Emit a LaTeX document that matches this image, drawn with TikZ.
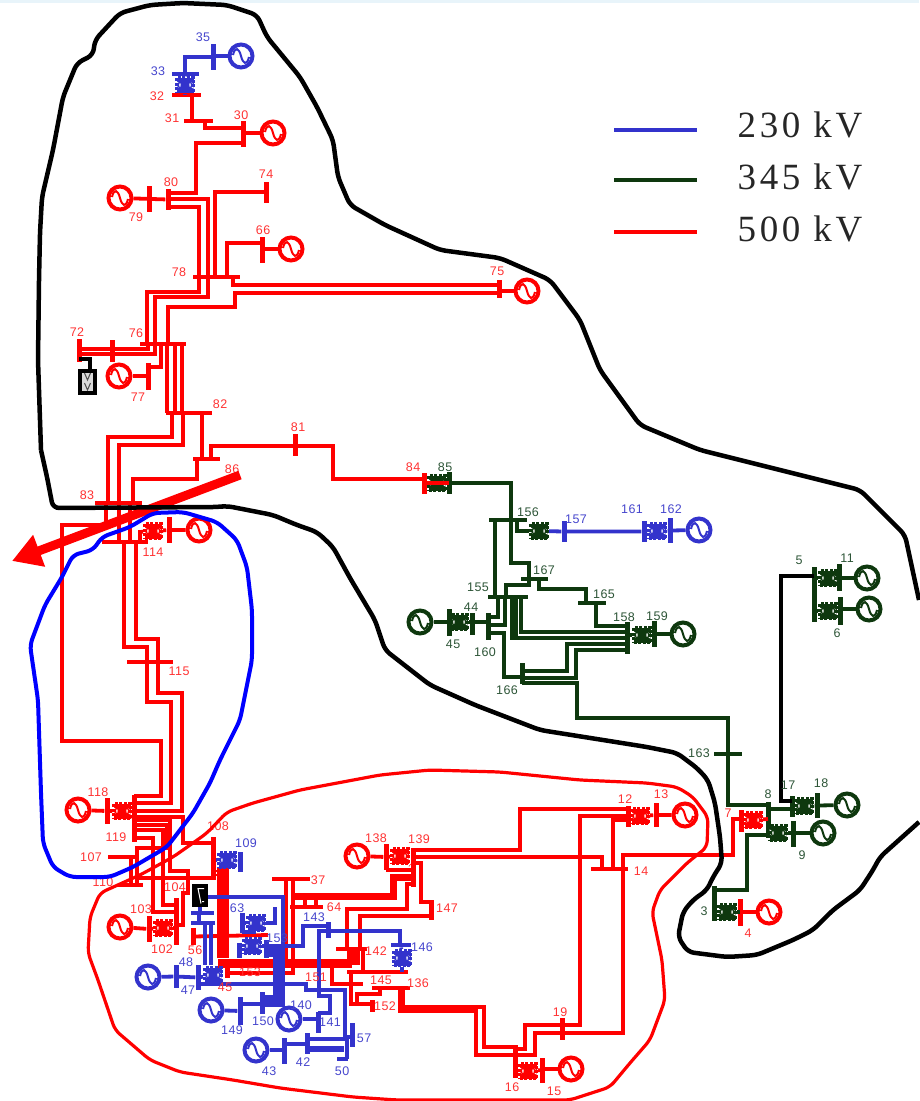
\documentclass[tikz,border=0pt]{standalone}
\usepackage{fontspec}
\usetikzlibrary{arrows.meta}
\newfontfamily\labfont[LetterSpace=4]{Liberation Sans}
\newfontfamily\legfont[LetterSpace=10]{Liberation Serif}
\definecolor{red500}{RGB}{255,0,0}
\definecolor{grn345}{RGB}{14,56,14}
\definecolor{blu230}{RGB}{51,51,204}
\definecolor{labred}{RGB}{255,50,50}
\definecolor{labgrn}{RGB}{45,85,55}
\definecolor{labblu}{RGB}{70,70,205}
\definecolor{topband}{RGB}{232,244,250}

\begin{document}
\begin{tikzpicture}[x=1pt,y=-1pt]
        \tikzset{vbus/.style 2 args = {shape=rectangle,fill=#1,inner sep=0pt,minimum width=5pt,minimum height=#2pt}}
        \tikzset{hbus/.style 2 args = {shape=rectangle,fill=#1,inner sep=0pt,minimum height=4.5pt,minimum width=#2pt}}
        \tikzset{gen/.style = {shape=circle,draw=#1,fill=white,line width=4pt,inner sep=0pt,minimum size=23pt,
          path picture={\draw[#1,line width=2pt] ([xshift=-8pt,yshift=1pt]path picture bounding box.center) .. controls +(2pt,9pt) and +(-2pt,8pt) .. (path picture bounding box.center) .. controls +(2pt,-8pt) and +(-2pt,-9pt) .. ([xshift=8pt,yshift=-1pt]path picture bounding box.center);}}}
        \tikzset{xfmr/.style = {shape=rectangle,draw=#1,fill=#1,line width=3pt,dash pattern=on 3pt off 1.5pt,inner sep=0pt,minimum width=17pt,minimum height=15pt,
          path picture={\draw[white,line width=1.3pt] ([xshift=-1pt,yshift=-4pt]path picture bounding box.north west) -- +(5pt,-3pt) ([xshift=-1pt,yshift=4pt]path picture bounding box.south west) -- +(5pt,3pt) ([xshift=1pt,yshift=-4pt]path picture bounding box.north east) -- +(-5pt,-3pt) ([xshift=1pt,yshift=4pt]path picture bounding box.south east) -- +(-5pt,3pt);}}}
        \tikzset{lr/.style = {draw=red500,line width=3.8pt}}
        \tikzset{lg/.style = {draw=grn345,line width=3.8pt}}
        \tikzset{lb/.style = {draw=blu230,line width=3.8pt}}
        \tikzset{tr/.style = {text=labred,font=\labfont\fontsize{12.5}{12.5}\selectfont,inner sep=0pt}}
        \tikzset{tg/.style = {text=labgrn,font=\labfont\fontsize{12.5}{12.5}\selectfont,inner sep=0pt}}
        \tikzset{tb/.style = {text=labblu,font=\labfont\fontsize{12.5}{12.5}\selectfont,inner sep=0pt}}
        \tikzset{legend/.style = {text=black!85,font=\legfont\fontsize{37}{37}\selectfont,inner sep=0pt}}
        \tikzset{zone/.style = {line width=4.5pt,line join=round,rounded corners=6pt}}

        \useasboundingbox (0,0) rectangle (919,1101);
        \fill[topband] (0,0) rectangle (919,2.5);

        % legend
        \coordinate (k230a) at (614,130);
        \coordinate (k230b) at (697,130);
        \coordinate (k345a) at (614,180);
        \coordinate (k345b) at (697,180);
        \coordinate (k500a) at (614,232);
        \coordinate (k500b) at (697,232);
        \draw[lb] (k230a) -- (k230b);
        \draw[lg] (k345a) -- (k345b);
        \draw[lr] (k500a) -- (k500b);
        \node[legend] (t230) at (800,125) {230 kV};
        \node[legend] (t345) at (800,177) {345 kV};
        \node[legend] (t500) at (800,229) {500 kV};

        % north area
        \node[vbus={blu230}{26}] (b35) at (213,57) {};
        \node[hbus={blu230}{27}] (b33) at (185.5,74) {};
        \node[xfmr=blu230] (x33) at (185,85) {};
        \node[gen=blu230] (g35) at (241,56) {};
        \node[hbus={red500}{29}] (b32) at (186.5,95) {};
        \node[hbus={red500}{29}] (b31) at (198.5,121) {};
        \node[vbus={red500}{26}] (b30) at (243,134) {};
        \node[gen=red500] (g30) at (273,133) {};
        \node[vbus={red500}{21}] (b80) at (168,199.5) {};
        \node[vbus={red500}{26}] (b79) at (149,199) {};
        \node[gen=red500] (g79) at (120,198) {};
        \node[vbus={red500}{21}] (b74) at (266,192.5) {};
        \node[vbus={red500}{26}] (b66) at (262,250) {};
        \node[gen=red500] (g66) at (291,249) {};
        \node[hbus={red500}{47}] (b78) at (216.5,277) {};
        \node[vbus={red500}{18}] (b75) at (499,289) {};
        \node[gen=red500] (g75) at (527,291) {};
        \node[hbus={red500}{46}] (b76) at (163,344) {};
        \node[vbus={red500}{23}] (b72) at (79,350.5) {};
        \node[vbus={red500}{22}] (b73) at (112,351) {};
        \node[vbus={red500}{27}] (b77) at (148,376.5) {};
        \node[gen=red500] (g77) at (119,376) {};
        \node[hbus={red500}{46}] (b82) at (189,413) {};
        \node[vbus={red500}{22}] (b81) at (295,445) {};
        \node[hbus={red500}{27}] (b86) at (206.5,459) {};
        \node[hbus={red500}{47}] (b83) at (118.5,503) {};
        \node[hbus={red500}{46}] (b114) at (125,542) {};
        \node[vbus={red500}{26}] (b113) at (169,530) {};
        \node[xfmr=red500] (x114) at (153,531) {};
        \node[gen=red500] (g113) at (199,530) {};
        \node[hbus={red500}{46}] (b115) at (150,662) {};
        \node[shape=rectangle,draw=black,fill=black!15,line width=3.5pt,minimum width=15pt,minimum height=22pt,inner sep=0pt,
          path picture={\draw[black!70,line width=1pt] (path picture bounding box.center) +(-3pt,9pt) -- +(0pt,2pt) -- +(3pt,9pt) +(-3pt,-1pt) -- +(0pt,-8pt) -- +(3pt,-1pt);}] (dev72) at (87.5,382) {};

        \draw[lb] (b33 -| 185,0) -- (185,57) -- (b35 |- 0,57);
        \draw[lb] (b35 |- 0,56) -- (g35);
        \draw[lb] (b33) -- (x33);
        \draw[lr] (b32 -| 192,0) -- (b31 -| 192,0);
        \draw[lr] (b31 -| 205,0) -- (205,128) -- (b30 |- 0,128);
        \draw[lr] (b30 |- 0,133) -- (g30);
        \draw[lr] (b30 |- 0,143) -- (196,143) -- (196,193) -- (b80 |- 0,193);
        \draw[lr] (g79) -- (b80);
        \draw[lr] (b80 |- 0,199) -- (208,199) -- (208,297) -- (155,297) -- (b76 -| 155,0);
        \draw[lr] (b80 |- 0,207) -- (199,207) -- (199,292) -- (147,292) -- (b76 -| 147,0);
        \draw[lr] (b78 -| 215,0) -- (215,192) -- (b74 |- 0,192);
        \draw[lr] (b78 -| 227,0) -- (227,243) -- (b66 |- 0,243);
        \draw[lr] (b66 |- 0,249) -- (g66);
        \draw[lr] (b78 -| 233,0) -- (233,285) -- (b75 |- 0,285);
        \draw[lr] (b75 |- 0,293) -- (235,293) -- (235,307) -- (168,307) -- (b76 -| 168,0);
        \draw[lr] (b75 |- 0,291) -- (g75);
        \draw[lr] (b72 |- 0,349) -- (148,349) -- (b76 -| 148,0);
        \draw[lr] (b72 |- 0,354) -- (155,354) -- (b76 -| 155,0);
        \draw[lr] (b76 -| 161,0) -- (161,367) -- (b77 |- 0,367);
        \draw[lr] (b77 |- 0,376) -- (g77);
        \draw[draw=black,line width=3.5pt] (b72 |- 0,359) -- (90,359) -- (dev72.north -| 90,0);
        \draw[lr] (b76 -| 167,0) -- (b82 -| 167,0);
        \draw[lr] (b76 -| 175,0) -- (b82 -| 175,0);
        \draw[lr] (b76 -| 182,0) -- (b82 -| 182,0);
        \draw[lr] (b82 -| 172,0) -- (172,437) -- (108,437) -- (b83 -| 108,0);
        \draw[lr] (b82 -| 183,0) -- (183,445) -- (119,445) -- (b83 -| 119,0);
        \draw[lr] (b82 -| 202,0) -- (b86 -| 202,0);
        \draw[lr] (b86 -| 197,0) -- (197,479) -- (133,479) -- (b83 -| 133,0);
        \draw[lr] (b86 -| 211,0) -- (211,446) -- (333,446) -- (333,479) -- (424,479);
        \draw[lr] (b83 -| 106,0) -- (106,525) -- (62,525) -- (62,741) -- (161,741) -- (161,796) -- (134,796);
        \draw[lr] (b83 -| 119,0) -- (b114 -| 119,0);
        \draw[lr] (b83 -| 130,0) -- (b114 -| 130,0);
        \draw[lr] (b114 -| 140,0) -- (140,532) -- (x114);
        \draw[lr] (x114) -- (b113) -- (g113);
        \draw[lr] (b114 -| 124,0) -- (124,647) -- (147,647) -- (147,702) -- (171,702) -- (171,803) -- (134,803);
        \draw[lr] (b114 -| 136,0) -- (136,639) -- (158,639) -- (158,693) -- (182,693) -- (182,811) -- (134,811);

        % south west area
        \node[vbus={red500}{47}] (b119) at (134,818.5) {};
        \node[vbus={red500}{26}] (b118) at (107,811) {};
        \node[gen=red500] (g118) at (78,810) {};
        \node[xfmr=red500] (x118) at (122,811) {};
        \node[hbus={red500}{27}] (b107) at (121.5,857) {};
        \node[hbus={red500}{25}] (b110) at (130.5,885) {};
        \node[vbus={red500}{43}] (b108) at (213,858.5) {};
        \node[vbus={red500}{47}] (b102) at (176,921.5) {};
        \node[vbus={red500}{26}] (b103) at (149,929) {};
        \node[gen=red500] (g103) at (120,927) {};
        \node[xfmr=red500] (x102) at (163,928) {};
        \node[vbus={red500}{17}] (b56) at (193,936.5) {};
        \node[vbus={red500}{15}] (b159) at (227,970.5) {};
        \node[hbus={red500}{38}] (b37) at (291,879) {};
        \node[hbus={red500}{33}] (b64) at (306.5,907) {};
        \node[hbus={red500}{31}] (b142) at (351.5,949) {};
        \node[hbus={red500}{61}] (b42b) at (377.5,972) {};
        \node[hbus={red500}{33}] (b145) at (346.5,984) {};
        \node[hbus={red500}{38}] (b136) at (391,988) {};
        \node[vbus={red500}{12}] (b152) at (372,1006) {};
        \coordinate (c108) at (223,868);
        \coordinate (c153) at (223,958);
        \node[vbus={red500}{26}] (b138) at (386,857) {};
        \node[gen=red500] (g138) at (357,856) {};
        \node[xfmr=red500] (x138) at (400,856) {};
        \node[vbus={red500}{39}] (b139) at (413,867.5) {};
        \node[vbus={red500}{20}] (b147) at (431,910) {};

        \draw[lr] (g118) -- (b118) -- (x118) -- (b119);
        \draw[lr] (b119 |- 0,817) -- (183,817) -- (183,843) -- (b108 |- 0,843);
        \draw[lr] (b119 |- 0,825) -- (167,825) -- (167,848) -- (137,848) -- (b110 -| 137,0);
        \draw[lr] (b110 -| 131,0) -- (b107 -| 131,0);
        \draw[lr] (b119 |- 0,838) -- (153,838) -- (153,912) -- (b102 |- 0,912);
        \draw[lr] (b119 |- 0,830) -- (163,830) -- (163,905) -- (b102 |- 0,905);
        \draw[lr] (b119 |- 0,820) -- (170,820) -- (170,871) -- (188,871) -- (188,893) -- (183,893) -- (183,925) -- (b102 |- 0,925);
        \draw[lr] (b110 -| 137,0) -- (137,878) -- (b108 |- 0,878);
        \draw[lr] (g103) -- (b103) -- (x102) -- (b102 |- 0,928);
        \draw[lr,line width=12pt] (c108) -- (c153);
        \draw[lr,line width=1.6pt] (b108 |- 0,871) -- (218,871);
        \draw[lr,line width=1.6pt] (b108 |- 0,875) -- (218,875);
        \draw[lr] (b56) -- (268,935);
        \draw[lr,line width=9pt] (218,963) -- (b142 |- 0,963);
        \draw[lr,line width=13pt] (b142 -| 353.5,0) -- (353.5,965);
        \draw[lr] (b159 |- 0,973) -- (293,973) -- (b37 -| 293,0);
        \draw[lr] (b37 -| 286,0) -- (286,963);
        \draw[lr,line width=7pt] (293,896) -- (393,896) -- (393,877) -- (b139 |- 0,877);
        \draw[lr] (305,896) -- (b64 -| 305,0);
        \draw[lr] (316,896) -- (b64 -| 316,0);
        \draw[lr] (g138) -- (b138) -- (x138) -- (b139);
        \draw[lr] (b138 |- 0,870) -- (b139 |- 0,870);
        \draw[lr] (b139 |- 0,884) -- (407,884) -- (407,909) -- (347,909) -- (b142 -| 347,0);
        \draw[lr] (b139 |- 0,863) -- (421,863) -- (421,902) -- (b147 |- 0,902);
        \draw[lr] (b147 |- 0,916) -- (360,916) -- (b142 -| 360,0);
        \draw[lr] (b142 -| 363,0) -- (b42b -| 363,0);
        \draw[lr] (b42b -| 351,0) -- (351,1004) -- (b152 |- 0,1004);
        \draw[lr] (332,963) -- (b145 -| 332,0);
        \draw[lr] (357,1004) -- (357,994) -- (380,994) -- (b136 -| 380,0);
        \draw[lr,line width=7pt] (b136 -| 401.5,0) -- (401.5,1009);
        \draw[lr] (398,1007) -- (484,1007) -- (484,1047) -- (518,1047);
        \draw[lr] (398,1011) -- (476,1011) -- (476,1055) -- (515,1055);

        % south east area
        \node[vbus={red500}{33}] (b16) at (515,1061.5) {};
        \node[xfmr=red500] (x16) at (528,1071) {};
        \node[vbus={red500}{25}] (b15) at (542,1070.5) {};
        \node[gen=red500] (g15) at (571,1069) {};
        \node[vbus={red500}{22}] (b19) at (562,1029) {};
        \node[hbus={red500}{37}] (b14) at (609.5,869) {};
        \node[vbus={red500}{21}] (b12) at (628,816.5) {};
        \node[xfmr=red500] (x12) at (640,816) {};
        \node[vbus={red500}{24}] (b13) at (656,815) {};
        \node[gen=red500] (g13) at (685,815) {};
        \node[vbus={red500}{22}] (b7) at (741,821) {};
        \node[xfmr=red500] (x7) at (753,820) {};

        \draw[lr] (b16 |- 0,1049) -- (525,1049) -- (525,1025) -- (580,1025) -- (580,816) -- (b12 |- 0,816);
        \draw[lr] (b16 |- 0,1055) -- (535,1055) -- (535,1033) -- (623,1033) -- (623,855) -- (733,855) -- (733,819) -- (b7 |- 0,819);
        \draw[lr] (b16 |- 0,1071) -- (x16) -- (b15 |- 0,1070);
        \draw[lr] (b15 |- 0,1069) -- (g15);
        \draw[lr] (b139 |- 0,850) -- (520,850) -- (520,809) -- (b12 |- 0,809);
        \draw[lr] (b139 |- 0,857) -- (602,857) -- (b14 -| 602,0);
        \draw[lr] (b14 -| 613,0) -- (613,820) -- (b12 |- 0,820);
        \draw[lr] (b12) -- (x12) -- (b13) -- (g13);
        \draw[lr] (b7) -- (x7);

        % 345 kV area
        \node[vbus={red500}{21}] (b84) at (424,483.5) {};
        \node[xfmr=grn345] (x85) at (437,483) {};
        \node[vbus={grn345}{22}] (b85) at (449,483) {};
        \node[hbus={grn345}{38}] (b156) at (508,520) {};
        \node[xfmr=grn345] (x156) at (539,531) {};
        \node[vbus={blu230}{21}] (b157) at (564,531.5) {};
        \node[vbus={blu230}{21}] (b161) at (644,531.5) {};
        \node[xfmr=blu230] (x161) at (657,531) {};
        \node[vbus={blu230}{25}] (b162) at (670,530.5) {};
        \node[gen=blu230] (g162) at (699,530) {};
        \node[hbus={grn345}{40}] (b155) at (508,597) {};
        \node[hbus={grn345}{27}] (b167) at (534.5,579) {};
        \node[hbus={grn345}{28}] (b165) at (592,603) {};
        \node[vbus={grn345}{32}] (b158) at (627,638) {};
        \node[xfmr=grn345] (x158) at (642,635) {};
        \node[vbus={grn345}{26}] (b159b) at (654,634) {};
        \node[gen=grn345] (g159) at (683,634) {};
        \node[vbus={grn345}{27}] (b160) at (488,626.5) {};
        \node[vbus={grn345}{22}] (b44) at (472,624) {};
        \node[xfmr=grn345] (x45) at (459,622) {};
        \node[vbus={grn345}{27}] (b45) at (449,622.5) {};
        \node[gen=grn345] (g45) at (420,622) {};
        \node[vbus={grn345}{21}] (b166) at (522,673.5) {};
        \node[hbus={grn345}{28}] (b163) at (728,754) {};
        \node[vbus={grn345}{36}] (b8) at (768,820) {};
        \node[vbus={grn345}{21}] (b17) at (792,806.5) {};
        \node[xfmr=grn345] (x17) at (804,806) {};
        \node[vbus={grn345}{25}] (b18) at (817,805.5) {};
        \node[gen=grn345] (g18) at (847,805) {};
        \node[xfmr=grn345] (x9) at (778,833) {};
        \node[vbus={grn345}{26}] (b9) at (793,834) {};
        \node[gen=grn345] (g9) at (823,833) {};
        \node[vbus={grn345}{35}] (b3) at (714,903.5) {};
        \node[xfmr=grn345] (x3) at (727,912) {};
        \node[vbus={red500}{27}] (b4) at (740,912.5) {};
        \node[gen=red500] (g4) at (769,912) {};
        \node[vbus={grn345}{55}] (b5) at (814,594.5) {};
        \node[xfmr=grn345] (x11) at (828,578) {};
        \node[vbus={grn345}{27}] (b11) at (839,577.5) {};
        \node[gen=grn345] (g11) at (867,578) {};
        \node[xfmr=grn345] (x6) at (828,611) {};
        \node[vbus={grn345}{28}] (b6) at (840,611) {};
        \node[gen=grn345] (g6) at (869,609) {};

        \draw[lr] (b84 |- 0,483) -- (b85 |- 0,483);
        \draw[lg] (b85 |- 0,483) -- (511,483) -- (511,563) -- (529,563) -- (529,585) -- (506,585) -- (b155 -| 506,0);
        \draw[lg] (b156 -| 517,0) -- (517,531) -- (x156);
        \draw[lb] (x156) -- (b157) -- (b161) -- (x161) -- (b162) -- (g162);
        \draw[lg] (b156 -| 495,0) -- (b155 -| 495,0);
        \draw[lg] (b167 -| 539,0) -- (539,589) -- (586,589) -- (b165 -| 586,0);
        \draw[lg] (b165 -| 596,0) -- (596,626) -- (b158 |- 0,626);
        \draw[lg] (b155 -| 498,0) -- (498,617) -- (b160 |- 0,617);
        \draw[lg] (b155 -| 505,0) -- (505,625) -- (b160 |- 0,625);
        \draw[lg] (b155 -| 512,0) -- (512,638) -- (b158 |- 0,638);
        \draw[lg] (b155 -| 516,0) -- (516,638) -- (b158 |- 0,638);
        \draw[lg] (b155 -| 521,0) -- (521,632) -- (b158 |- 0,632);
        \draw[lg] (b158 |- 0,635) -- (x158) -- (b159b |- 0,635);
        \draw[lg] (b159b) -- (g159);
        \draw[lg] (g45) -- (b45 |- 0,622) -- (x45) -- (b44 |- 0,622) -- (b160 |- 0,622);
        \draw[lg] (b160 |- 0,633) -- (504,633) -- (504,677) -- (b166 |- 0,677);
        \draw[lg] (b166 |- 0,671) -- (567,671) -- (567,644) -- (b158 |- 0,644);
        \draw[lg] (b166 |- 0,678) -- (576,678) -- (576,650) -- (b158 |- 0,650);
        \draw[lg] (b166 |- 0,683) -- (577,683) -- (577,718) -- (728,718) -- (728,805) -- (b8 |- 0,805);
        \draw[lg] (b8 |- 0,809) -- (b17 |- 0,809);
        \draw[lg] (b17) -- (x17) -- (b18) -- (g18);
        \draw[lr] (x7) -- (b8 |- 0,819);
        \draw[lg] (b8 |- 0,833) -- (x9) -- (b9 |- 0,833);
        \draw[lg] (b9 |- 0,833) -- (g9);
        \draw[lg] (b8 |- 0,835) -- (747,835) -- (747,890) -- (b3 |- 0,890);
        \draw[lg] (b3 |- 0,912) -- (x3) -- (b4 |- 0,912);
        \draw[lr] (b4 |- 0,912) -- (g4);
        \draw[draw=black,line width=3.5pt] (b5 |- 0,576) -- (781,576) -- (781,801) -- (b17 |- 0,801);
        \draw[lg] (b5 |- 0,578) -- (x11) -- (b11 |- 0,578);
        \draw[lg] (b11 |- 0,578) -- (g11);
        \draw[lg] (b5 |- 0,611) -- (x6) -- (b6 |- 0,611);
        \draw[lg] (b6 |- 0,609) -- (g6);

        % 230 kV pocket
        \node[xfmr=blu230] (x109) at (227,860) {};
        \node[vbus={blu230}{20}] (b109) at (240,862) {};
        \node[shape=rectangle,fill=black,minimum width=16pt,minimum height=23pt,inner sep=0pt,
          path picture={\draw[white,line width=1pt] (path picture bounding box.center) +(1pt,-8pt) -- +(-2pt,7pt) -- +(4pt,7pt) +(2pt,-6pt) -- +(4pt,-6pt);}] (dev56) at (200,895.5) {};
        \node[hbus={blu230}{23}] (b113t) at (202.5,913) {};
        \node[hbus={blu230}{24}] (b113u) at (203,923) {};
        \node[vbus={blu230}{25}] (b47) at (198,977.5) {};
        \node[vbus={blu230}{23}] (b48) at (176,976.5) {};
        \node[gen=blu230] (g47) at (148,977) {};
        \node[xfmr=blu230] (x45b) at (213,975) {};
        \node[xfmr=blu230] (x63) at (256,923) {};
        \node[vbus={blu230}{20}] (b63) at (242,923) {};
        \node[xfmr=blu230] (x153) at (252,946) {};
        \node[vbus={blu230}{15}] (b153a) at (239,950.5) {};
        \node[vbus={blu230}{18}] (b153b) at (266,949) {};
        \node[vbus={blu230}{16}] (b143) at (328,930) {};
        \node[hbus={blu230}{20}] (b146) at (401,945) {};
        \node[xfmr=blu230] (x146) at (402,958) {};
        \node[vbus={blu230}{22}] (b150) at (262,1003) {};
        \node[vbus={blu230}{28}] (b149) at (240,1011) {};
        \node[gen=blu230] (g149) at (211,1010) {};
        \node[gen=blu230] (g140) at (289,1019) {};
        \node[vbus={blu230}{21}] (b141) at (318,1022.5) {};
        \node[vbus={blu230}{24}] (b57) at (352,1035) {};
        \node[vbus={blu230}{21}] (b42) at (307,1043.5) {};
        \node[vbus={blu230}{26}] (b43) at (284,1051) {};
        \node[gen=blu230] (g43) at (256,1050) {};
        \node[hbus={blu230}{10}] (b50) at (342,1059) {};

        \draw[lb] (216,860) -- (x109) -- (b109);
        \draw[lb] (dev56.south) -- (b113t -| dev56.south);
        \draw[lb] (b113t -| 199,0) -- (b113u -| 199,0);
        \draw[lb] (b113u -| 205,0) -- (205,965);
        \draw[lb] (b113u -| 211,0) -- (211,965);
        \draw[lb] (g47) -- (b48) -- (b47) -- (x45b);
        \draw[lb] (dev56.east |- 0,897) -- (283,897) -- (283,1005) -- (b150 |- 0,1005);
        \draw[lb,line width=10pt] (b153b |- 0,952) -- (278,952) -- (278,1000) -- (b150 |- 0,1000);
        \draw[lb] (b63) -- (x63) -- (275,923) -- (275,907);
        \draw[lb] (b63 |- 0,932) -- (x63.south);
        \draw[lb] (b153a |- 0,946) -- (x153) -- (b153b |- 0,946);
        \draw[lb] (b153b |- 0,946) -- (303,946) -- (303,926) -- (b143 |- 0,926);
        \draw[lb] (b143 |- 0,931) -- (400,931) -- (b146 -| 400,0);
        \draw[lb] (b146) -- (x146);
        \draw[lb] (x146) -- (402,972);
        \draw[lb] (b143 |- 0,931) -- (319,931) -- (319,996) -- (330,996) -- (330,1013) -- (b141 |- 0,1013);
        \draw[lb] (b47 |- 0,984) -- (306,984) -- (306,990) -- (345,990) -- (345,1037) -- (b57 |- 0,1037);
        \draw[lb] (g149) -- (b149);
        \draw[lb] (b149 |- 0,1004) -- (b150 |- 0,1004);
        \draw[lb] (g140) -- (b141 |- 0,1019);
        \draw[lb] (g43) -- (b43 |- 0,1050);
        \draw[lb] (b43 |- 0,1044) -- (b42 |- 0,1044);
        \draw[lb] (b42 |- 0,1039) -- (347,1039) -- (347,1059) -- (b50);
        \draw[lb,line width=6pt] (b42 |- 0,1049) -- (344,1049);
        \draw[lb] (x33) -- (b32 -| 185,0);

        % labels
        \node[tb] (t35) at (203,37) {35};
        \node[tb] (t33) at (158,71) {33};
        \node[tr] (t32) at (157,96) {32};
        \node[tr] (t31) at (172,118) {31};
        \node[tr] (t30) at (241,115) {30};
        \node[tr] (t80) at (171,182) {80};
        \node[tr] (t79) at (136,217) {79};
        \node[tr] (t74) at (266,174) {74};
        \node[tr] (t66) at (263,230) {66};
        \node[tr] (t78) at (179,272) {78};
        \node[tr] (t75) at (497,271) {75};
        \node[tr] (t72) at (77,332) {72};
        \node[tr] (t76) at (136,333) {76};
        \node[tr] (t77) at (138,397) {77};
        \node[tr] (t82) at (220,404) {82};
        \node[tr] (t81) at (298,427) {81};
        \node[tr] (t83) at (87,495) {83};
        \node[tr] (t86) at (232,469) {86};
        \node[tr] (t114) at (153,552) {114};
        \node[tr] (t115) at (179,671) {115};
        \node[tr] (t118) at (98,792) {118};
        \node[tr] (t119) at (116,837) {119};
        \node[tr] (t107) at (91,857) {107};
        \node[tr] (t110) at (103,882) {110};
        \node[tr] (t108) at (218,826) {108};
        \node[tb] (t109) at (246,843) {109};
        \node[tr] (t104) at (175,887) {104};
        \node[tr] (t103) at (141,909) {103};
        \node[tr] (t102) at (162,949) {102};
        \node[tr] (t56) at (195,950) {56};
        \node[tb] (t48) at (186,962) {48};
        \node[tb] (t47) at (188,990) {47};
        \node[tr] (t45b) at (225,987) {45};
        \node[tb] (t63) at (237,908) {63};
        \node[tb] (t153) at (277,938) {153};
        \node[tr] (t159b) at (250,972) {153};
        \node[tr] (t37) at (318,880) {37};
        \node[tr] (t64) at (334,907) {64};
        \node[tb] (t143) at (314,917) {143};
        \node[tr] (t151) at (316,977) {151};
        \node[tr] (t142) at (376,951) {142};
        \node[tb] (t146) at (422,947) {146};
        \node[tr] (t145) at (381,980) {145};
        \node[tr] (t136) at (418,983) {136};
        \node[tr] (t152) at (385,1006) {152};
        \node[tr] (t147) at (447,908) {147};
        \node[tb] (t57) at (364,1038) {57};
        \node[tb] (t50) at (342,1071) {50};
        \node[tb] (t42) at (303,1062) {42};
        \node[tb] (t43) at (269,1071) {43};
        \node[tb] (t149) at (232,1030) {149};
        \node[tb] (t150) at (263,1021) {150};
        \node[tb] (t140) at (301,1005) {140};
        \node[tb] (t141) at (330,1022) {141};
        \node[tr] (t19) at (560,1012) {19};
        \node[tr] (t16) at (512,1087) {16};
        \node[tr] (t15) at (554,1091) {15};
        \node[tr] (t138) at (376,838) {138};
        \node[tr] (t139) at (419,839) {139};
        \node[tr] (t12) at (625,799) {12};
        \node[tr] (t13) at (661,794) {13};
        \node[tr] (t14) at (641,871) {14};
        \node[tr] (t7) at (728,813) {7};
        \node[tr] (t4) at (748,933) {4};
        \node[tr] (t84) at (413,467) {84};
        \node[tg] (t85) at (445,467) {85};
        \node[tg] (t156) at (528,512) {156};
        \node[tb] (t157) at (576,519) {157};
        \node[tb] (t161) at (632,509) {161};
        \node[tb] (t162) at (671,509) {162};
        \node[tg] (t167) at (544,570) {167};
        \node[tg] (t165) at (604,594) {165};
        \node[tg] (t155) at (478,587) {155};
        \node[tg] (t44) at (471,607) {44};
        \node[tg] (t158) at (624,617) {158};
        \node[tg] (t159) at (657,616) {159};
        \node[tg] (t45) at (453,644) {45};
        \node[tg] (t160) at (485,652) {160};
        \node[tg] (t166) at (507,690) {166};
        \node[tg] (t163) at (699,753) {163};
        \node[tg] (t8) at (768,794) {8};
        \node[tg] (t17) at (788,785) {17};
        \node[tg] (t18) at (821,783) {18};
        \node[tg] (t9) at (802,855) {9};
        \node[tg] (t3) at (704,911) {3};
        \node[tg] (t5) at (799,560) {5};
        \node[tg] (t11) at (847,558) {11};
        \node[tg] (t6) at (837,633) {6};

        % arrow
        \coordinate (a86) at (240,475);
        \coordinate (a00) at (12,561);
        \draw[draw=red500,line width=9pt,-{Triangle[length=29pt,width=32pt]}] (a86) -- (a00);

        % zones
        \draw[zone,draw=red500,line width=3.2pt] (253,803) -- (227,812) -- (207,833) -- (193,843) -- (173,857) -- (140,875) -- (100,893) -- (90,917) -- (88,953) -- (98,980) -- (115,1030) -- (150,1060) -- (180,1072) -- (233,1080) -- (280,1088) -- (353,1097) -- (397,1100) -- (570,1100) -- (610,1087) -- (630,1063) -- (650,1040) -- (665,1000) -- (662,960) -- (652,912) -- (660,890) -- (687,863) -- (707,847) -- (708,817) -- (693,797) -- (677,787) -- (647,783) -- (580,780) -- (500,772) -- (430,770) -- (380,775) -- (300,790) -- cycle;
        \draw[zone,draw=black] (41,450) -- (47,477) -- (53,508) -- (217,507) -- (227,506) -- (273,515) -- (297,525) -- (317,532) -- (333,547) -- (350,578) -- (375,620) -- (385,650) -- (430,685) -- (475,705) -- (540,730) -- (603,740) -- (647,747) -- (677,753) -- (697,768) -- (708,780) -- (715,803) -- (720,837) -- (722,863) -- (713,877) -- (707,890) -- (693,900) -- (683,912) -- (678,937) -- (688,952) -- (727,957) -- (757,955) -- (793,940) -- (813,930) -- (833,910) -- (860,890) -- (873,870) -- (880,857) -- (919,822);
        \draw[zone,draw=black] (919,600) -- (905,535) -- (860,490) -- (780,470) -- (700,450) -- (640,425) -- (600,370) -- (580,320) -- (550,280) -- (500,258) -- (440,250) -- (385,225) -- (350,205) -- (338,177) -- (333,140) -- (317,107) -- (300,77) -- (267,37) -- (257,15) -- (227,5) -- (183,3) -- (150,5) -- (120,13) -- (107,27) -- (95,40) -- (93,55) -- (77,63) -- (63,97) -- (53,150) -- (42,197) -- (40,233) -- (39,280) -- (38,360) -- (41,450);
        \draw[zone,draw=blue,line width=4pt] (153,513) -- (183,512) -- (217,522) -- (237,540) -- (247,567) -- (252,610) -- (252,660) -- (240,720) -- (220,760) -- (210,783) -- (193,813) -- (180,830) -- (167,847) -- (133,867) -- (110,877) -- (70,877) -- (53,867) -- (43,843) -- (41,793) -- (38,700) -- (30,645) -- (45,605) -- (62,577) -- (73,555) -- (93,550) -- (102,537) -- (130,527) -- cycle;
      \end{tikzpicture}
\end{document}
